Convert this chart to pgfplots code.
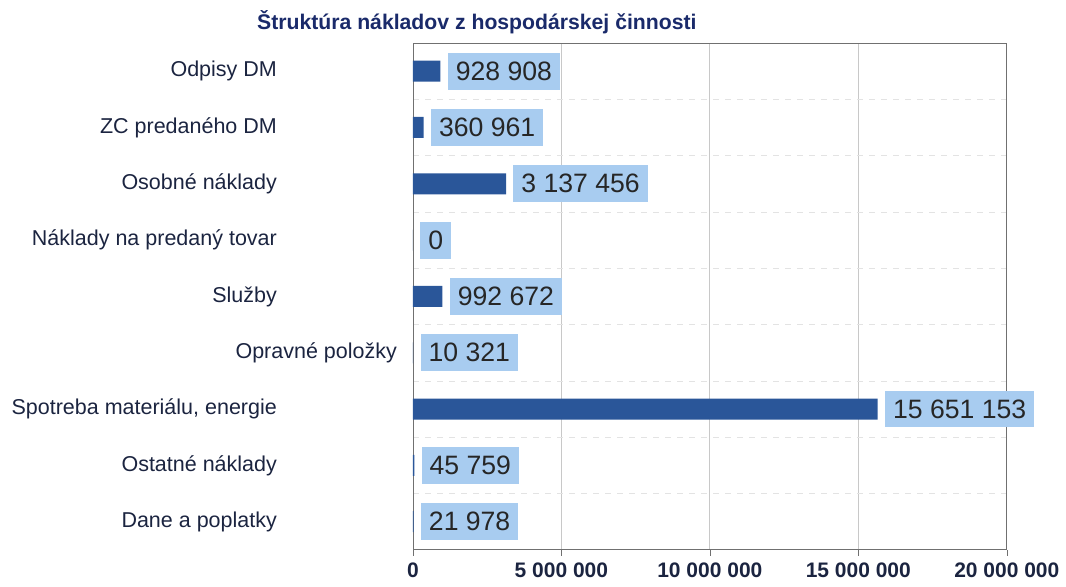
\documentclass[border=0pt]{standalone}
\usepackage{fontspec}
\setmainfont{Liberation Sans}
\usepackage{pgfplots}
\pgfplotsset{compat=1.18}
\usepackage{pgfplotstable}
\definecolor{BarBlue}{HTML}{2A5699}
\definecolor{LabelBlue}{HTML}{A8CCF0}
\definecolor{Navy}{HTML}{1B2440}
\definecolor{TitleNavy}{HTML}{1A2A6A}
\definecolor{GridGray}{HTML}{C8C8C8}
\definecolor{FrameGray}{HTML}{707070}

% y: 0 = bottom row
\pgfplotstableread[col sep=comma]{
y,cost,label
0,21978,21 978
1,45759,45 759
2,15651153,15 651 153
3,10321,10 321
4,992672,992 672
5,0,0
6,3137456,3 137 456
7,360961,360 961
8,928908,928 908
}\costs

\begin{document}
\begin{tikzpicture}
\begin{axis}[
  scale only axis,
  width=297pt, height=253.5pt,
  xmin=0, xmax=20000000,
  ymin=-0.5, ymax=8.5,
  axis line style={FrameGray},
  xtick={0,5000000,10000000,15000000,20000000},
  xticklabels={0,5 000 000,10 000 000,15 000 000,20 000 000},
  scaled x ticks=false,
  xtick pos=bottom,
  xtick align=outside,
  major tick length=3pt,
  xtick style={FrameGray},
  xmajorgrids,
  grid style={GridGray},
  xticklabel style={font=\bfseries\fontsize{10.5}{12}\selectfont, text=Navy},
  ytick={0,...,8},
  yticklabels={Dane a poplatky, Ostatné náklady, {Spotreba materiálu, energie},
    {\llap{Opravné položky\kern-60pt}}, Služby, Náklady na predaný tovar,
    Osobné náklady, ZC predaného DM, Odpisy DM},
  ytick style={draw=none},
  yticklabel style={font=\fontsize{10.75}{12}\selectfont, text=Navy, xshift=-64.5pt},
  minor ytick={-0.5,0.5,...,8.5},
  yminorgrids,
  minor grid style={gray!22, dashed},
  minor y tick style={FrameGray},
  minor tick length=2pt,
  title={Štruktúra nákladov z hospodárskej činnosti},
  title style={at={(0.1077,1)}, anchor=base, yshift=0.5pt,
    font=\bfseries\fontsize{10.6}{12}\selectfont, text=TitleNavy},
]
  \addplot[xbar, fill=BarBlue, draw=none, bar width=10.5pt,
    point meta=explicit symbolic,
    nodes near coords,
    every node near coord/.append style={anchor=west, xshift=3.5pt,
      fill=LabelBlue, inner xsep=4pt, inner ysep=4.5pt,
      font=\fontsize{13.3}{15}\selectfont, text=black!85}]
    table[x=cost, y=y, meta=label] {\costs};
\end{axis}
\path (current axis.south west) ++(-206.5pt,-18.5pt) rectangle ++(533pt,293.5pt);
\end{tikzpicture}
\end{document}
